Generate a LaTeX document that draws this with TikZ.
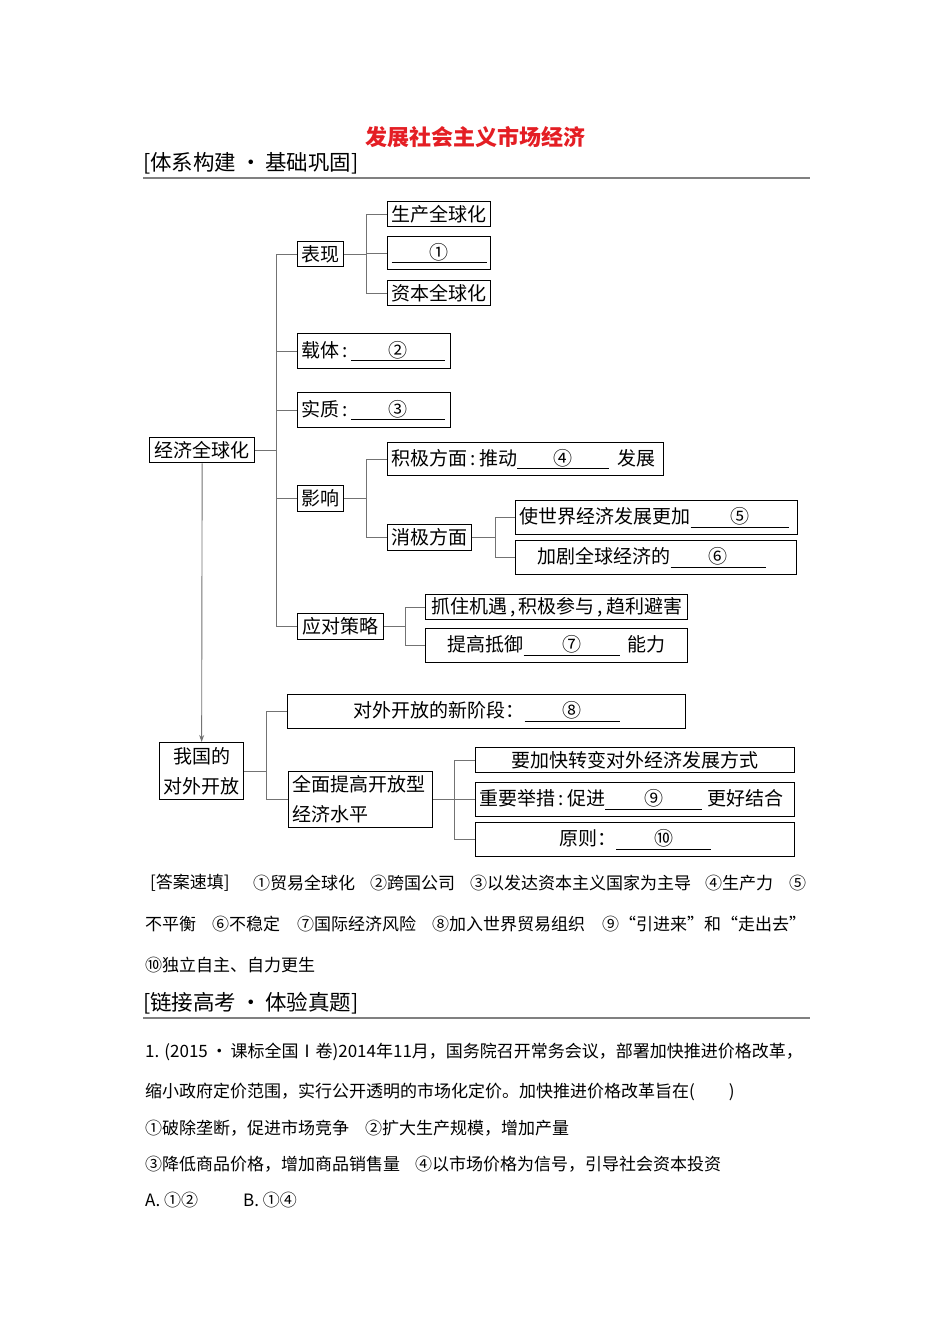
\documentclass[tikz,border=0pt]{standalone}
\usepackage{fontspec}
\setmainfont{Noto Sans CJK SC}
\usepackage{tikz}
\usetikzlibrary{arrows.meta}
\usepackage{xcolor}
\definecolor{titlered}{RGB}{228,30,36}
\newcommand{\blank}[2]{\underline{\makebox[#1]{#2}}}
\newcommand{\ncolon}{\,:\,}
\tikzstyle{box} = [rectangle, draw=black, line width=1.3pt, inner xsep=4pt, inner ysep=0pt, anchor=north west, font=\fontsize{19}{30}\selectfont]
\tikzstyle{link} = [draw=black!55, line width=0.9pt]
\tikzstyle{para} = [anchor=west, inner sep=0pt, font=\fontsize{17}{20}\selectfont]
\tikzstyle{head} = [anchor=west, inner sep=0pt, font=\fontsize{21.5}{24}\selectfont]

\begin{document}
\begin{tikzpicture}[x=1pt, y=-1pt]
  \useasboundingbox[fill=white] (0,0) rectangle (950,1344);
  % Title and first heading
  \node[font=\fontsize{22}{26}\selectfont\bfseries, text=titlered] (title) at (475,137) {发展社会主义市场经济};
  \node[head] (head1) at (143,163) {[体系构建\,·\,基础巩固]};
  \draw[black!50, line width=1.5pt] (143,178) -- (810,178);

  % Economic globalisation
  \node[box, minimum width=105pt, minimum height=25pt] (gjqqh) at (149,437) {经济全球化};
  \node[box, minimum width=46pt, minimum height=25pt] (biaoxian) at (297,241) {表现};
  \node[box, minimum width=103pt, minimum height=25pt] (shengchan) at (387,201) {生产全球化};
  \node[box, minimum width=103pt, minimum height=33pt] (mark1) at (387,236) {\blank{95pt}{①}};
  \node[box, minimum width=103pt, minimum height=25pt] (ziben) at (387,280) {资本全球化};
  \node[box, text width=145pt, minimum height=35pt] (zaiti) at (297,333) {载体\ncolon\blank{94pt}{②}};
  \node[box, text width=145pt, minimum height=35pt] (shizhi) at (297,392) {实质\ncolon\blank{94pt}{③}};
  \node[box, minimum width=46pt, minimum height=26pt] (yingxiang) at (297,485) {影响};
  \node[box, text width=268pt, minimum height=33pt] (jiji) at (387,442) {积极方面\ncolon 推动\blank{92pt}{④}\hspace{8pt}发展};
  \node[box, minimum width=83pt, minimum height=26pt] (xiaoji) at (387,524) {消极方面};
  \node[box, text width=274pt, minimum height=34pt] (buping) at (515,500) {使世界经济发展更加\blank{98pt}{⑤}};
  \node[box, text width=273pt, minimum height=34pt] (buwen) at (515,540) {\hspace{18pt}加剧全球经济的\blank{95pt}{⑥}};
  \node[box, minimum width=86pt, minimum height=26pt] (celue) at (297,613) {应对策略};
  \node[box, minimum width=262pt, minimum height=25pt] (zhuazhu) at (425,594) {抓住机遇\,,\,积极参与\,,\,趋利避害};
  \node[box, text width=254pt, minimum height=34pt] (diyu) at (425,628) {\hspace{18pt}提高抵御\blank{96pt}{⑦}\hspace{8pt}能力};

  \draw[link] (gjqqh.east) -- ++(21,0) |- (biaoxian.west);
  \draw[link] (gjqqh.east) -- ++(21,0) |- (zaiti.west);
  \draw[link] (gjqqh.east) -- ++(21,0) |- (shizhi.west);
  \draw[link] (gjqqh.east) -- ++(21,0) |- (yingxiang.west);
  \draw[link] (gjqqh.east) -- ++(21,0) |- (celue.west);
  \draw[link] (biaoxian.east) -- ++(22,0) |- (shengchan.west);
  \draw[link] (biaoxian.east) -- ++(22,0) |- (mark1.west);
  \draw[link] (biaoxian.east) -- ++(22,0) |- (ziben.west);
  \draw[link] (yingxiang.east) -- ++(22,0) |- (jiji.west);
  \draw[link] (yingxiang.east) -- ++(22,0) |- (xiaoji.west);
  \draw[link] (xiaoji.east) -- ++(23,0) |- (buping.west);
  \draw[link] (xiaoji.east) -- ++(23,0) |- (buwen.west);
  \draw[link] (celue.east) -- ++(21,0) |- (zhuazhu.west);
  \draw[link] (celue.east) -- ++(21,0) |- (diyu.west);

  % Opening up
  \node[box, minimum width=84pt, minimum height=57pt, align=center] (woguo) at (159,742) {我国的\\对外开放};
  \node[box, minimum width=398pt, minimum height=34pt] (jieduan) at (287,694) {对外开放的新阶段：\blank{95pt}{⑧}};
  \node[box, text width=136pt, minimum height=56pt, align=left] (quanmian) at (288,771) {全面提高开放型\\经济水平};
  \node[box, minimum width=319pt, minimum height=25pt] (fangshi) at (475,747) {要加快转变对外经济发展方式};
  \node[box, text width=311pt, minimum height=34pt] (jucuo) at (475,782) {重要举措\ncolon 促进\blank{97pt}{⑨}\hspace{5pt}更好结合};
  \node[box, minimum width=319pt, minimum height=34pt] (yuanze) at (475,822) {原则：\blank{95pt}{⑩}};

  \draw[link, -{Stealth[length=7pt, width=5pt]}] (gjqqh.south) -- (woguo.north);
  \draw[link] (woguo.east) -- ++(22,0) |- (jieduan.west);
  \draw[link] (woguo.east) -- ++(22,0) |- (quanmian.west);
  \draw[link] (quanmian.east) -- ++(21,0) |- (fangshi.west);
  \draw[link] (quanmian.east) -- ++(21,0) |- (jucuo.west);
  \draw[link] (quanmian.east) -- ++(21,0) |- (yuanze.west);

  % Answers
  \node[para] (ans0) at (150,883) {[答案速填]};
  \node[para] (ans1) at (253,883) {①贸易全球化};
  \node[para] (ans2) at (370,883) {②跨国公司};
  \node[para] (ans3) at (470,883) {③以发达资本主义国家为主导};
  \node[para] (ans4) at (705,883) {④生产力};
  \node[para] (ans5) at (789,883) {⑤};
  \node[para] (ans5b) at (145,924) {不平衡};
  \node[para] (ans6) at (212,924) {⑥不稳定};
  \node[para] (ans7) at (297,924) {⑦国际经济风险};
  \node[para] (ans8) at (432,924) {⑧加入世界贸易组织};
  \node[para] (ans9) at (602,924) {⑨“引进来”和“走出去”};
  \node[para] (ans10) at (145,965) {⑩独立自主、自力更生};

  % Second heading and question
  \node[head] (head2) at (143,1003) {[链接高考\,·\,体验真题]};
  \draw[black!50, line width=1.5pt] (143,1018) -- (810,1018);
  \node[para] (q1) at (145,1052) {1. (2015\,•\,课标全国Ⅰ卷)2014年11月，国务院召开常务会议，部署加快推进价格改革，};
  \node[para] (q2) at (145,1092) {缩小政府定价范围，实行公开透明的市场化定价。加快推进价格改革旨在(\hspace{34pt})};
  \node[para] (q3) at (145,1128) {①破除垄断，促进市场竞争};
  \node[para] (q3b) at (365,1128) {②扩大生产规模，增加产量};
  \node[para] (q4) at (145,1164) {③降低商品价格，增加商品销售量};
  \node[para] (q4b) at (415,1164) {④以市场价格为信号，引导社会资本投资};
  \node[para] (optA) at (145,1200) {A. ①②};
  \node[para] (optB) at (243,1200) {B. ①④};
\end{tikzpicture}
\end{document}
